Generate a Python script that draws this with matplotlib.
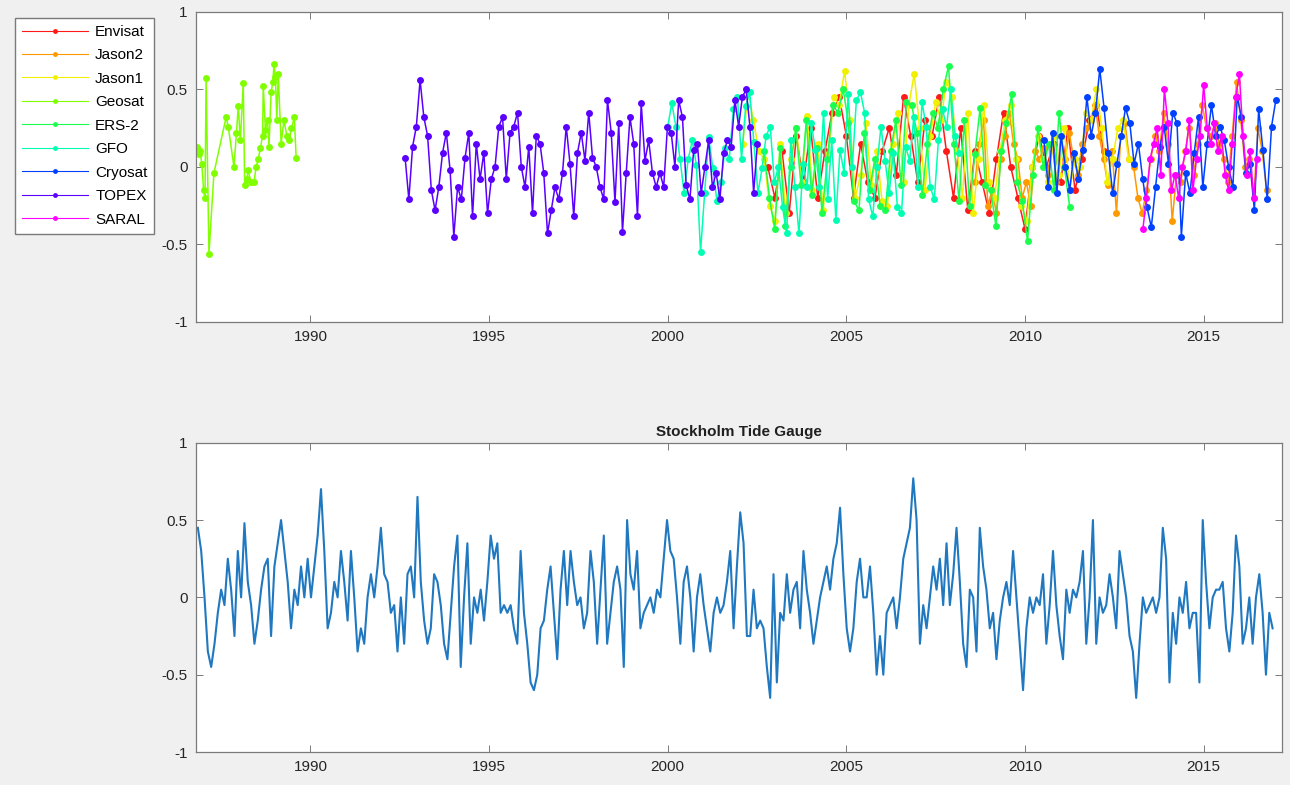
import numpy as np
import matplotlib
matplotlib.use('Agg')
import matplotlib.pyplot as plt
from matplotlib.lines import Line2D

plt.rcParams['font.family'] = ['Liberation Sans', 'DejaVu Sans']
plt.rcParams['axes.unicode_minus'] = False

# missions, in plotting (and legend) order
missions = ['Envisat', 'Jason2', 'Jason1', 'Geosat', 'ERS-2', 'GFO', 'Cryosat', 'TOPEX', 'SARAL']
colors = ['#ff1a1a', '#ff9900', '#f0f000', '#80ff00', '#1aff4d', '#00ffb3', '#0040ff', '#5a00ff', '#ff00ff']

# sea level anomalies [m]
geosat_t = [1986.83, 1986.87, 1986.91, 1986.96, 1987.01, 1987.05, 1987.08, 1987.16, 1987.30, 1987.64,
            1987.70, 1987.86, 1987.93, 1987.98, 1988.04, 1988.12, 1988.16, 1988.22, 1988.26, 1988.33,
            1988.42, 1988.48, 1988.54, 1988.60, 1988.66, 1988.68, 1988.74, 1988.80, 1988.84, 1988.90,
            1988.95, 1988.98, 1989.02, 1989.06, 1989.10, 1989.18, 1989.26, 1989.34, 1989.40, 1989.47,
            1989.55, 1989.60]
geosat_h = [0.13, 0.08, 0.10, 0.02, -0.15, -0.20, 0.57, -0.56, -0.04, 0.32,
            0.26, 0.00, 0.22, 0.39, 0.17, 0.54, -0.12, -0.08, -0.02, -0.10,
            -0.10, 0.00, 0.05, 0.12, 0.20, 0.52, 0.24, 0.30, 0.13, 0.48,
            0.55, 0.66, 0.58, 0.30, 0.60, 0.15, 0.30, 0.20, 0.17, 0.25,
            0.32, 0.06]

topex_span = (1992.65, 2002.51)
topex_h = [0.06, -0.21, 0.13, 0.26, 0.56, 0.32, 0.20, -0.15, -0.28, -0.13, 0.09, 0.22, -0.02, -0.45,
           -0.13, -0.21, 0.06, 0.22, -0.32, 0.15, -0.08, 0.09, -0.30, -0.08, 0.00, 0.26, 0.32, -0.08,
           0.22, 0.26, 0.35, 0.00, -0.13, 0.13, -0.30, 0.20, 0.15, -0.04, -0.43, -0.28, -0.13, -0.21,
           -0.04, 0.26, 0.02, -0.32, 0.09, 0.22, 0.04, 0.35, 0.06, 0.00, -0.13, -0.21, 0.43, 0.22,
           -0.23, 0.28, -0.42, -0.04, 0.32, 0.15, -0.32, 0.41, 0.04, 0.17, -0.04, -0.13, -0.04, -0.13,
           0.26, 0.22, 0.00, 0.43, 0.32, -0.12, -0.21, 0.11, 0.15, -0.17, 0.00, 0.17, -0.13, -0.04,
           -0.21, 0.09, 0.17, 0.13, 0.43, 0.26, 0.45, 0.50, 0.26, -0.17, 0.15]

gfo_span = (2000.0, 2008.15)
gfo_h = [0.26, 0.41, 0.26, 0.05, -0.17, 0.05, 0.17, 0.01, -0.55, -0.17, 0.19, -0.01, -0.22, -0.10,
         0.12, 0.05, 0.37, 0.45, 0.05, 0.39, 0.48, 0.16, -0.17, -0.01, 0.20, 0.26, -0.10, 0.00,
         -0.26, -0.43, 0.17, -0.13, -0.43, 0.02, -0.13, 0.28, 0.11, -0.13, 0.35, -0.21, 0.17, -0.34,
         0.11, -0.04, 0.47, 0.00, 0.43, 0.48, 0.35, -0.21, -0.32, 0.00, 0.26, 0.04, -0.17, 0.09,
         -0.26, -0.30, 0.13, 0.04, 0.32, -0.13, 0.42, 0.26, -0.13, -0.21, 0.17, 0.37, 0.26, 0.50,
         0.20, 0.09]

jason1_span = (2002.10, 2012.90)
jason1_h = [0.15, 0.48, 0.30, 0.10, 0.05, -0.25, -0.35, 0.15, -0.30, 0.05, 0.25, -0.10, 0.33, -0.15,
            0.15, -0.28, 0.08, 0.45, 0.40, 0.62, 0.30, -0.20, -0.05, 0.28, -0.12, 0.10, -0.22, -0.25,
            0.15, 0.35, -0.10, 0.40, 0.60, 0.25, -0.15, 0.20, 0.42, 0.30, 0.55, 0.45, 0.10, -0.20,
            0.35, -0.30, 0.05, 0.40, -0.10, -0.20, 0.10, 0.30, 0.40, 0.05, -0.25, -0.35, 0.00, 0.20,
            0.05, -0.10, 0.20, -0.05, 0.25, -0.15, 0.05, 0.00, 0.35, 0.30, 0.50, 0.25, -0.10, 0.05,
            0.25, 0.30, 0.05]

ers2_span = (2002.70, 2011.25)
ers2_h = [0.10, -0.20, -0.40, 0.12, -0.38, 0.00, 0.25, -0.12, 0.30, -0.18, 0.12, -0.30, 0.05, 0.40,
          0.35, 0.50, 0.28, -0.22, -0.28, 0.22, -0.15, 0.05, -0.25, -0.28, 0.10, 0.30, -0.12, 0.42,
          0.40, 0.22, -0.18, 0.15, 0.35, 0.25, 0.50, 0.65, 0.15, -0.22, 0.30, -0.25, 0.08, 0.38,
          -0.12, -0.15, -0.38, 0.10, 0.28, 0.47, -0.10, -0.22, -0.48, -0.05, 0.25, 0.00, 0.15, -0.15,
          0.35, 0.00, -0.26]

envisat_span = (2002.80, 2012.20)
envisat_h = [0.00, -0.20, 0.10, -0.30, 0.20, -0.10, 0.25, -0.20, 0.10, 0.35, 0.45, 0.20, -0.20, 0.15,
             -0.10, -0.20, 0.10, 0.25, -0.05, 0.45, 0.20, -0.10, 0.30, 0.20, 0.45, 0.10, -0.20, 0.25,
             -0.28, 0.10, -0.10, -0.30, 0.05, 0.35, 0.00, -0.20, -0.40, 0.00, 0.20, 0.00, 0.15, -0.10,
             0.25, -0.15, 0.05, 0.30, 0.40, 0.10]

jason2_span = (2008.60, 2016.76)
jason2_h = [-0.10, 0.15, 0.30, -0.25, -0.15, -0.30, 0.05, 0.20, 0.35, 0.15, 0.05, -0.20, -0.10, -0.25,
            0.10, 0.05, 0.12, -0.05, 0.15, -0.10, 0.20, 0.05, 0.22, 0.05, -0.05, 0.15, 0.25, 0.30,
            0.40, 0.20, 0.05, -0.12, 0.10, -0.30, 0.20, 0.28, 0.05, 0.00, -0.20, -0.30, -0.15, 0.05,
            0.20, 0.10, 0.35, 0.15, -0.35, -0.05, -0.10, 0.10, 0.25, -0.05, 0.15, 0.40, 0.25, 0.20,
            0.28, 0.15, 0.05, -0.10, 0.20, 0.55, 0.30, 0.00, 0.05, -0.20, 0.25, 0.10, -0.15]

cryosat_span = (2010.53, 2017.02)
cryosat_h = [0.17, -0.13, 0.22, -0.17, 0.20, 0.00, -0.15, 0.09, -0.08, 0.11, 0.45, 0.20, 0.35, 0.63,
             0.38, 0.09, -0.17, 0.02, 0.20, 0.38, 0.28, 0.02, 0.15, -0.08, -0.26, -0.39, -0.13, 0.13,
             0.26, 0.02, 0.35, 0.28, -0.45, -0.04, -0.17, 0.09, 0.32, -0.13, 0.15, 0.40, 0.20, 0.26,
             0.17, 0.00, -0.13, 0.45, 0.32, -0.04, 0.02, -0.28, 0.37, 0.11, -0.21, 0.26, 0.43]

saral_span = (2013.30, 2016.50)
saral_h = [-0.40, -0.20, 0.05, 0.15, 0.25, -0.05, 0.50, 0.28, -0.15, -0.05, -0.20, 0.00, 0.10, 0.30,
           -0.15, 0.05, 0.20, 0.53, 0.25, 0.15, 0.28, 0.10, 0.20, -0.05, -0.15, 0.15, 0.45, 0.60,
           0.20, -0.05, 0.10, -0.20, 0.05]

# Stockholm tide gauge [m]
tg_span = (1986.85, 2016.93)
tg_h = [0.45, 0.30, 0.00, -0.35, -0.45, -0.30, -0.10, 0.05, -0.05, 0.25, 0.05, -0.25, 0.30, 0.00, 0.48,
        0.10, -0.05, -0.30, -0.15, 0.05, 0.20, 0.25, -0.25, 0.20, 0.35, 0.50, 0.30, 0.10, -0.20, 0.05,
        -0.05, 0.20, 0.00, 0.25, 0.00, 0.20, 0.40, 0.70, 0.30, -0.20, -0.10, 0.10, 0.00, 0.30, 0.10,
        -0.15, 0.30, 0.00, -0.35, -0.20, -0.30, 0.00, 0.15, 0.00, 0.20, 0.45, 0.15, 0.10, -0.10, -0.05,
        -0.35, 0.00, -0.30, 0.15, 0.20, 0.00, 0.65, 0.10, -0.15, -0.30, -0.20, 0.15, 0.10, -0.05, -0.30,
        -0.40, -0.10, 0.20, 0.40, -0.45, 0.00, 0.35, -0.30, 0.00, -0.10, 0.05, -0.15, 0.10, 0.40, 0.25,
        0.35, -0.10, -0.05, -0.10, -0.05, -0.20, -0.30, 0.30, -0.10, -0.30, -0.55,
        -0.60, -0.50, -0.20, -0.15, 0.05, 0.20, -0.10, -0.40, 0.05, 0.30, -0.05, 0.30, 0.10, -0.05, 0.00,
        -0.20, -0.10, 0.30, 0.10, -0.30, 0.05, 0.40, -0.30, -0.10, 0.10, 0.20, 0.05, -0.45, 0.50, 0.15,
        0.05, 0.30, -0.20, -0.10, -0.05, 0.00, -0.10, 0.05, 0.00, 0.25, 0.50, 0.30, 0.25, 0.00, -0.30,
        0.10, 0.20, 0.00, -0.35, 0.00, 0.15, -0.05, -0.20, -0.35, -0.10, 0.00, -0.10, -0.05, 0.10, 0.30,
        -0.20, 0.20, 0.55, 0.35, -0.25, -0.25, 0.05, -0.20, -0.15, -0.20, -0.45, -0.65, 0.15, -0.55, -0.10,
        -0.15, 0.15, -0.10, 0.05, 0.10, -0.20, 0.30, 0.05, -0.10, -0.30, -0.15, 0.00, 0.10, 0.20, 0.05,
        0.25, 0.35, 0.58, 0.15, -0.20, -0.35, -0.20, 0.10, 0.25, 0.00, 0.00, 0.20, -0.10, -0.50, -0.25,
        -0.50, -0.10, -0.05, 0.00,
        -0.20, 0.00, 0.25, 0.35, 0.45, 0.77, 0.50, -0.30, -0.05, -0.20, 0.00, 0.20, 0.05, 0.25, -0.05,
        0.35, -0.05, 0.15, 0.45, 0.10, -0.30, -0.45, 0.05, 0.00, -0.35, 0.45, 0.20, 0.05, -0.20, -0.10,
        -0.40, -0.15, 0.00, 0.10, -0.05, 0.30, 0.00, -0.30, -0.60, -0.20, 0.00, -0.10, 0.00, -0.05, 0.15,
        -0.30, -0.05, 0.30, -0.05, -0.25, -0.40, 0.05, -0.10, 0.05, 0.00, 0.10, 0.30, -0.30, 0.00, 0.50,
        -0.30, 0.00, -0.10, -0.05, 0.15, 0.00, -0.20, 0.30, 0.15, 0.00, -0.25, -0.35, -0.65, -0.30, 0.00,
        -0.10, -0.05, 0.00, -0.10, 0.00, 0.45, 0.25, -0.55, -0.10, -0.30, 0.00, -0.10, 0.10, -0.20, -0.10,
        -0.10, -0.55, 0.50, 0.10, -0.20, 0.00, 0.05, 0.05, 0.10, -0.20, -0.35, -0.10, 0.40, 0.20, -0.30,
        -0.20, 0.00, -0.30, 0.00, 0.15, -0.10, -0.50, -0.10, -0.20]

xticks = [1990, 1995, 2000, 2005, 2010, 2015]
yticks = [-1, -0.5, 0, 0.5, 1]
ylabels = ['-1', '-0.5', '0', '0.5', '1']


def span_times(span, vals):
    return np.linspace(span[0], span[1], len(vals))


sat = {
    'Envisat': (span_times(envisat_span, envisat_h), envisat_h),
    'Jason2': (span_times(jason2_span, jason2_h), jason2_h),
    'Jason1': (span_times(jason1_span, jason1_h), jason1_h),
    'Geosat': (geosat_t, geosat_h),
    'ERS-2': (span_times(ers2_span, ers2_h), ers2_h),
    'GFO': (span_times(gfo_span, gfo_h), gfo_h),
    'Cryosat': (span_times(cryosat_span, cryosat_h), cryosat_h),
    'TOPEX': (span_times(topex_span, topex_h), topex_h),
    'SARAL': (span_times(saral_span, saral_h), saral_h),
}


def style(ax):
    ax.set_xlim(1986.8, 2017.2)
    ax.set_ylim(-1, 1)
    ax.set_xticks(xticks)
    ax.set_yticks(yticks)
    ax.set_yticklabels(ylabels)
    ax.set_facecolor('white')
    ax.tick_params(direction='in', top=True, right=True, length=5, width=0.7,
                   color='#7a7a7a', labelcolor='#262626', labelsize=11, pad=6)
    for s in ax.spines.values():
        s.set_color('#7a7a7a')
        s.set_linewidth(0.9)


fig = plt.figure(figsize=(12.9, 7.85), dpi=100, facecolor='#f0f0f0')
ax1 = fig.add_axes([0.152, 0.590, 0.842, 0.395])
ax2 = fig.add_axes([0.152, 0.042, 0.842, 0.394])

for name, c in zip(missions, colors):
    t, h = sat[name]
    ax1.plot(t, h, '-', marker='o', color=c, lw=1.1, ms=5, mew=0)
style(ax1)

ax2.plot(span_times(tg_span, tg_h), tg_h, color='#1f78c0', lw=1.5)
style(ax2)
ax2.set_title('Stockholm Tide Gauge', fontsize=11, fontweight='bold', pad=5, color='#202020')

# thin legend keys with a small dot, as in the original
handles = [Line2D([], [], color=c, lw=0.8, marker='o', ms=3.5, mew=0) for c in colors]
fig.legend(handles, missions, loc='upper left', bbox_to_anchor=(15 / 1290, 1 - 18 / 785),
           fontsize=11, handlelength=4.3, numpoints=1, fancybox=False, edgecolor='#7a7a7a',
           framealpha=1, borderaxespad=0, labelspacing=0.62, handletextpad=0.5, borderpad=0.45)

fig.savefig('out.png', dpi=100, facecolor=fig.get_facecolor())
